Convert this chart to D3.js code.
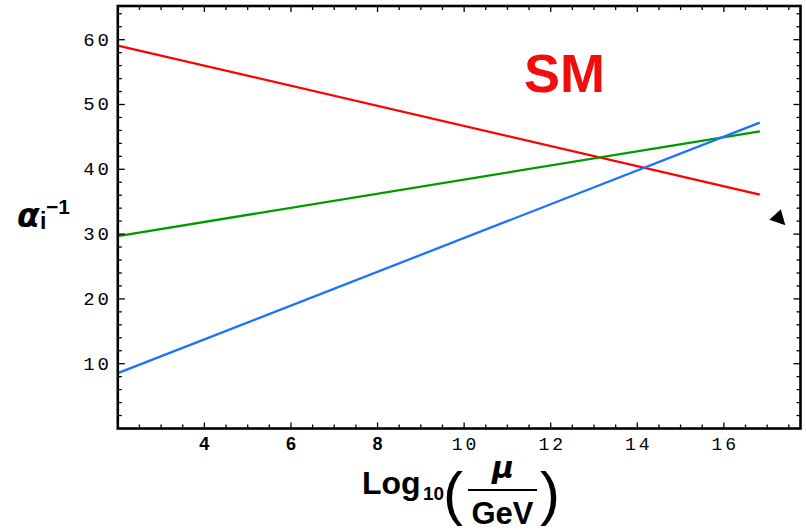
<!DOCTYPE html>
<html>
<head>
<meta charset="utf-8">
<script src="https://cdn.jsdelivr.net/npm/d3@7"></script>
<style>
  body { margin: 0; background: #fff; }
  svg { display: block; }
</style>
</head>
<body>
<svg id="chart" width="806" height="532"></svg>
<script>
// log10(mu/GeV) at the two ends of each running line
var muLog = [2, 16.83];
// inverse couplings alpha_i^-1
var alpha1 = [59.1, 36.1];
var alpha2 = [29.7, 45.85];
var alpha3 = [8.55, 47.2];
var seriesNames = ["alpha1", "alpha2", "alpha3"];
var seriesColors = ["#ff0000", "#009a00", "#1a72ff"];
var xTicks = [4, 6, 8, 10, 12, 14, 16];
var yTicks = [10, 20, 30, 40, 50, 60];
// arrowhead annotation (data coords of its left tip)
var arrowTip = [17.05, 32.2];

var svg = d3.select("#chart");
var x = d3.scaleLinear().domain([2, 17.77]).range([117.8, 800.5]);
var y = d3.scaleLinear().domain([0, 65.2]).range([428.5, 6]);

var series = [alpha1, alpha2, alpha3].map(function (vals, i) {
    return { name: seriesNames[i], color: seriesColors[i],
             pts: vals.map(function (v, j) { return [muLog[j], v]; }) };
});

var line = d3.line().x(d => x(d[0])).y(d => y(d[1]));

svg.selectAll("path.series")
    .data(series)
    .enter().append("path")
    .attr("class", "series")
    .attr("d", d => line(d.pts))
    .attr("fill", "none")
    .attr("stroke", d => d.color)
    .attr("stroke-width", 2.3);

// frame ticks, pointing inward on all four sides
var xMinor = d3.range(2.5, 17.6, 0.5);
var yMinor = d3.range(2, 65, 2);
var g = svg.append("g").attr("stroke", "#000");
function isMajorX(v) { return xTicks.indexOf(v) >= 0; }
function isMajorY(v) { return yTicks.indexOf(v) >= 0; }

g.selectAll("line.xb").data(xMinor).enter().append("line")
    .attr("x1", d => x(d)).attr("x2", d => x(d))
    .attr("y1", y(0)).attr("y2", d => y(0) - (isMajorX(d) ? 6 : 4))
    .attr("stroke-width", 1.3);
g.selectAll("line.xt").data(xMinor).enter().append("line")
    .attr("x1", d => x(d)).attr("x2", d => x(d))
    .attr("y1", y(65.2)).attr("y2", d => y(65.2) + (isMajorX(d) ? 6 : 4))
    .attr("stroke-width", 1.3);
g.selectAll("line.yl").data(yMinor).enter().append("line")
    .attr("y1", d => y(d)).attr("y2", d => y(d))
    .attr("x1", x(2)).attr("x2", d => x(2) + (isMajorY(d) ? 7 : 4))
    .attr("stroke-width", 1.3);
g.selectAll("line.yr").data(yMinor).enter().append("line")
    .attr("y1", d => y(d)).attr("y2", d => y(d))
    .attr("x1", x(17.77)).attr("x2", d => x(17.77) - (isMajorY(d) ? 7 : 4))
    .attr("stroke-width", 1.3);

svg.append("rect")
    .attr("x", x(2)).attr("y", y(65.2))
    .attr("width", x(17.77) - x(2)).attr("height", y(0) - y(65.2))
    .attr("fill", "none").attr("stroke", "#000").attr("stroke-width", 2.6);

// tick labels
svg.selectAll("text.ylab").data(yTicks).enter().append("text")
    .attr("x", 112).attr("y", d => y(d) + 6)
    .attr("text-anchor", "end")
    .style("font-family", "Liberation Mono, monospace")
    .style("font-size", "19px")
    .style("letter-spacing", "3px")
    .text(d => d);

svg.selectAll("text.xlab").data(xTicks).enter().append("text")
    .attr("x", d => x(d) + (d < 10 ? 0 : 1.5)).attr("y", 450)
    .attr("text-anchor", "middle")
    .style("font-family", d => d < 10 ? "Liberation Sans, sans-serif" : "Liberation Mono, monospace")
    .style("font-weight", d => d < 10 ? "bold" : "normal")
    .style("font-size", d => d < 10 ? "18px" : "18px")
    .style("letter-spacing", d => d < 10 ? "0px" : "3px")
    .text(d => d);

// SM label
svg.append("text")
    .attr("x", 524).attr("y", 92)
    .style("font-family", "Liberation Sans, Arial, sans-serif")
    .style("font-weight", "bold").style("font-size", "54px")
    .attr("fill", "#f20d0d")
    .text("SM");

// arrowhead
var ax = x(arrowTip[0]), ay = y(arrowTip[1]);
svg.append("path")
    .attr("d", "M" + ax + "," + ay + "L" + (ax + 11.5) + "," + (ay - 10.5) + "L" + (ax + 16) + "," + (ay + 5.5) + "Z")
    .attr("fill", "#000");

// y axis label: alpha_i^-1
var bold = "Liberation Sans, Arial, sans-serif";
svg.append("text").attr("x", 17).attr("y", 227)
    .style("font-family", "DejaVu Sans, sans-serif").style("font-weight", "bold")
    .style("font-style", "italic").style("font-size", "33px").text("α");
svg.append("text").attr("x", 40).attr("y", 229)
    .style("font-family", bold).style("font-weight", "bold")
    .style("font-size", "23px").text("i");
svg.append("text").attr("x", 46).attr("y", 214)
    .style("font-family", bold).style("font-weight", "bold")
    .style("font-size", "21px").text("−1");

// x axis label: Log10(mu/GeV)
svg.append("text").attr("x", 362).attr("y", 494)
    .style("font-family", bold).style("font-weight", "bold")
    .style("font-size", "32px").text("Log");
svg.append("text").attr("x", 423).attr("y", 500)
    .style("font-family", bold).style("font-weight", "bold")
    .style("font-size", "19px").text("10");
svg.append("text").attr("x", 443).attr("y", 514)
    .style("font-family", bold).style("font-size", "60px").text("(");
svg.append("text").attr("x", 540).attr("y", 514)
    .style("font-family", bold).style("font-size", "60px").text(")");
svg.append("text").attr("x", 503).attr("y", 478)
    .attr("text-anchor", "middle")
    .style("font-family", "DejaVu Sans, sans-serif").style("font-weight", "bold")
    .style("font-style", "italic").style("font-size", "30px").text("μ");
svg.append("line").attr("x1", 468).attr("x2", 537).attr("y1", 490).attr("y2", 490)
    .attr("stroke", "#000").attr("stroke-width", 2);
svg.append("text").attr("x", 502.5).attr("y", 524)
    .attr("text-anchor", "middle")
    .style("font-family", bold).style("font-weight", "bold")
    .style("font-size", "31px").text("GeV");
</script>
</body>
</html>
